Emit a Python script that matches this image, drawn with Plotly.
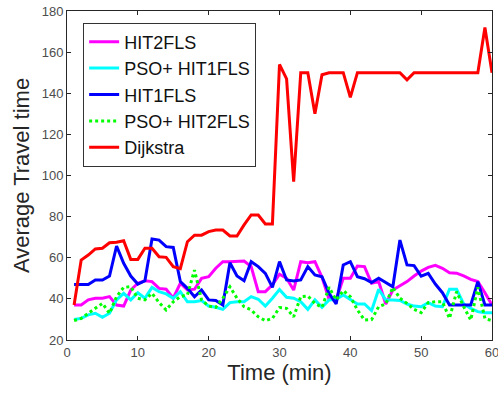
import plotly.graph_objects as go

time_min = list(range(1, 61))

hit2fls = [37, 37, 39.5, 40.3, 40.3, 41.1, 37, 36.5, 44.3, 47.6,
           48.8, 48.4, 45.1, 44.7, 40.3, 47.6, 44.3, 44.7, 50, 50.8,
           54.9, 58.1, 58.1, 58.1, 58.4, 55.7, 43.5, 43.5, 46.8, 52,
           50, 44.3, 58.1, 57.6, 58.1, 50.5, 39.8, 39.5, 50, 50,
           56, 55.7, 47.6, 48.4, 37.5, 44.3, 46.3, 48.4, 51.1, 53.5,
           55.3, 56.3, 54.9, 52.7, 52.5, 51.2, 49.5, 48.4, 43, 37]

pso_hit1fls = [30, 30.5, 32.2, 33, 31, 33, 39.5, 42.7, 39.5, 43,
               40.3, 45.6, 43.5, 42.4, 40.3, 43.5, 38.6, 38.6, 39.2, 36.5,
               35.9, 34.9, 38.2, 38.6, 38.6, 41.1, 39.8, 36.5, 40.3, 44.5,
               40.8, 40.3, 38.6, 34.9, 39.5, 35.9, 39.5, 39.8, 41.9, 39.5,
               37.5, 37.5, 34.3, 44.7, 39.5, 39.5, 39.2, 37.5, 36.5, 36.2,
               38.2, 36.5, 36.2, 44.7, 44.7, 37.5, 35.4, 33.8, 33.3, 33.3]

hit1fls = [47, 47, 47, 49.2, 49.2, 51.1, 65.7, 57.3, 51.1, 47.2,
           48.8, 69.1, 68.6, 65.4, 65, 48.4, 45.1, 41, 44.3, 39.5,
           39.2, 37, 57.6, 51.1, 48.8, 58.1, 55.7, 52.4, 45.6, 58.1,
           49.2, 48.7, 49.2, 55.7, 51.6, 50.8, 42.7, 37.5, 56.5, 58.1,
           50.8, 49.8, 47.9, 50, 47.9, 45.9, 68.6, 56.5, 56.2, 51,
           52.4, 47.2, 43, 37, 37, 37, 37, 48.4, 37, 37]

pso_hit2fls = [29.4, 30.5, 33, 35.4, 37.8, 33, 41.1, 45.6, 45.9, 40.3,
               39.5, 42.7, 38.2, 34.6, 38.6, 41.1, 41.9, 54, 39.5, 36.5,
               35.9, 40.3, 45.9, 40.3, 36.2, 34.6, 31.3, 29.4, 30.5, 35.8,
               35.4, 31.3, 41.1, 41.4, 37.8, 35.9, 45.6, 39.5, 44, 41.1,
               34.6, 29.7, 29.9, 36.2, 37.5, 45.6, 40.3, 37.8, 34.9, 33.3,
               38.2, 38.6, 38.6, 30.5, 43.5, 36.2, 29.7, 45.6, 30.5, 29.4]

dijkstra = [37, 58.9, 61.3, 64.3, 64.6, 67.3, 67.5, 68.3, 59.2, 59.2,
            64.6, 64.6, 60.5, 60.2, 55.7, 54.7, 67.8, 71, 71, 72.7,
            73.5, 73.5, 70.6, 70.6, 76, 80.8, 80.8, 76.4, 76.4, 154,
            147, 97, 150, 150, 130, 149, 150, 150, 150, 138,
            150, 150, 150, 150, 150, 150, 150, 146.5, 150, 150,
            150, 150, 150, 150, 150, 150, 150, 150, 172, 150]

x_ticks = [0, 10, 20, 30, 40, 50, 60]
y_ticks = [20, 40, 60, 80, 100, 120, 140, 160, 180]

series = [
    ("HIT2FLS", hit2fls, "#ff00ff", "solid"),
    ("PSO+ HIT1FLS", pso_hit1fls, "#00ffff", "solid"),
    ("HIT1FLS", hit1fls, "#0000ff", "solid"),
    ("PSO+ HIT2FLS", pso_hit2fls, "#00ff00", "dot"),
    ("Dijkstra", dijkstra, "#ff0000", "solid"),
]

fig = go.Figure()
for name, vals, color, dash in series:
    fig.add_trace(go.Scatter(
        x=time_min, y=vals, mode="lines", name=name,
        line=dict(color=color, width=3, dash=dash),
    ))

axis_common = dict(
    showgrid=False, zeroline=False, showline=True, linecolor="#262626",
    linewidth=1, mirror="ticks", ticks="inside", ticklen=4, tickwidth=1,
    tickcolor="#262626", tickfont=dict(size=13, color="#4d4d4d"),
    automargin=False, ticklabeloverflow="allow",
)

fig.update_layout(
    width=498, height=393,
    margin=dict(l=67, r=6, t=11, b=53),
    paper_bgcolor="white", plot_bgcolor="white",
    font=dict(family="Liberation Sans, Arial, sans-serif", color="#262626"),
    showlegend=True,
    legend=dict(
        x=0.038, y=0.965, xanchor="left", yanchor="top",
        bgcolor="white", bordercolor="#333333", borderwidth=1,
        font=dict(size=18, color="#111111"),
        tracegroupgap=0, itemwidth=30,
    ),
    xaxis=dict(range=[0, 60], tickvals=x_ticks,
               title=dict(text="Time (min)", font=dict(size=22), standoff=4),
               **axis_common),
    yaxis=dict(range=[20, 180], tickvals=y_ticks,
               title=dict(text="Average Travel time", font=dict(size=22), standoff=5),
               **axis_common),
)

fig.write_html("out.html", config={"displayModeBar": False},
               post_script="document.body.style.margin='0';document.body.style.overflow='hidden';")
